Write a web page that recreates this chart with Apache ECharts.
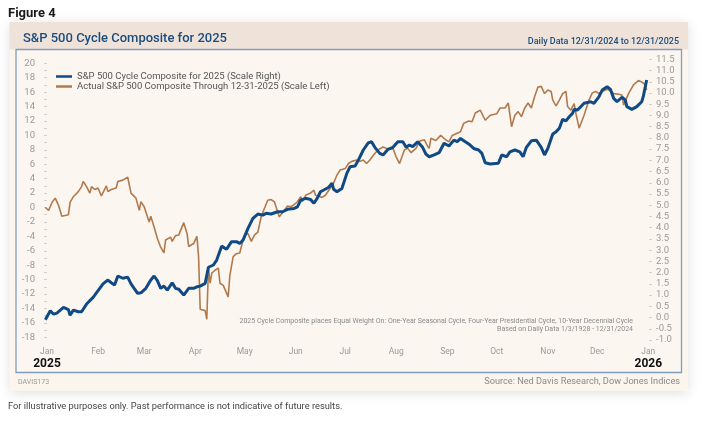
<!DOCTYPE html>
<html><head><meta charset="utf-8">
<script src="https://cdn.jsdelivr.net/npm/echarts@6/dist/echarts.min.js"></script>
<style>html,body{margin:0;padding:0;background:#fff}#c{width:712px;height:430px}</style>
</head><body><div id="c"></div>
<script>
// x values: days since 2025-01-01 (-1 = 12/31/2024, 364 = 12/31/2025)
const compositeName = 'S&P 500 Cycle Composite for 2025 (Scale Right)';
const actualName = 'Actual S&P 500 Composite Through 12-31-2025 (Scale Left)';

const compositeDays = [-1,2,4,6,10,13,14,16,19,21,24,28,31,34,37,39,41,43,46,49,51,55,57,60,63,65,67,69,71,73,76,78,80,83,86,89,91,93,96,98,101,103,106,109,112,115,117,119,122,125,128,131,133,136,140,143,146,150,152,154,157,160,162,164,166,168,171,173,174,176,179,182,184,187,189,192,195,197,199,202,204,207,210,213,216,218,220,222,225,228,230,232,235,238,241,244,247,249,251,253,256,259,262,264,266,269,274,276,279,281,284,287,289,291,294,297,300,302,304,307,309,311,313,315,317,319,320,322,324,326,330,332,335,337,340,342,344,346,349,351,352,355,358,361,362,364];
const compositeValues = [-0.1,0.3,0.15,0.2,0.45,0.35,0.1,0.33,0.26,0.26,0.6,0.9,1.2,1.5,1.67,1.55,1.45,1.85,1.75,1.8,1.5,1.08,1.1,1.3,1.67,1.85,1.64,1.3,1.4,1.22,1.55,1.3,1.26,1.0,1.3,1.3,1.37,1.4,1.52,2.24,2.34,2.56,3.18,3.04,3.38,3.38,3.3,3.45,3.97,4.42,4.61,4.56,4.64,4.61,4.71,4.71,4.82,4.86,4.93,5.23,5.31,5.26,5.09,5.31,5.6,5.68,5.8,5.98,5.71,5.6,5.75,6.42,6.72,6.75,7.01,7.46,7.78,7.83,7.58,7.31,7.24,7.49,7.58,7.83,7.83,7.58,7.68,7.61,7.83,7.58,7.28,7.16,7.24,7.34,7.76,7.64,7.9,7.83,7.98,7.87,7.73,7.53,7.46,7.31,6.89,6.84,6.87,7.24,7.16,7.38,7.46,7.38,7.16,7.58,7.87,7.9,7.58,7.24,7.53,8.17,8.27,8.43,8.83,8.76,8.94,9.09,9.27,9.24,9.39,9.54,9.61,9.54,9.83,10.13,10.28,10.16,9.76,9.61,9.81,9.69,9.39,9.27,9.39,9.61,9.86,10.58];

const actualDays = [-1,1,3,5,7,9,13,14,16,19,21,22,24,26,27,29,31,33,35,36,37,39,42,43,46,49,51,54,56,57,59,61,62,63,65,67,69,70,71,72,75,76,78,80,83,85,86,89,91,92,93,96,97,98,99,100,102,104,105,107,110,111,113,115,117,118,120,122,124,126,128,130,132,134,136,138,140,141,144,146,148,150,152,154,155,157,160,162,163,165,167,169,172,174,176,178,181,183,185,188,190,192,194,196,198,201,204,206,208,210,212,214,217,219,221,224,226,229,231,232,233,236,239,242,244,246,248,251,253,256,258,260,263,266,269,273,275,278,280,282,284,286,288,290,292,294,296,298,300,302,304,306,307,309,311,313,315,316,318,320,321,323,326,329,331,333,335,337,340,342,344,347,349,350,353,356,359,361,363,364];
const actualValues = [0,-0.4,0.7,1.3,0.3,-1.2,-1.0,0.7,1.5,2.2,2.9,3.6,2.9,2.0,2.9,2.5,2.7,1.6,2.5,3.0,2.2,2.5,2.7,3.6,3.8,4.2,2.0,1.3,-0.4,0.8,0.1,-1.3,-2.0,-1.2,-2.7,-4.3,-5.5,-5.3,-6.3,-4.5,-4.1,-4.7,-3.9,-3.8,-2.1,-3.6,-5.4,-5.0,-4.0,-6.8,-14.1,-14.3,-15.5,-8.4,-10.5,-9.1,-8.7,-8.4,-10.5,-10.8,-12.4,-9.4,-6.8,-6.4,-6.3,-5.4,-3.8,-3.6,-4.7,-3.8,-3.4,-1.3,-0.1,1.0,1.1,0.8,-0.6,-1.3,-0.4,0.2,0.1,0.4,0.8,1.5,0.8,1.7,2.0,2.4,1.7,1.6,1.4,1.7,2.7,3.4,4.5,5.2,5.4,6.1,6.4,6.6,6.4,6.6,6.1,6.6,7.2,8.0,8.4,8.2,8.1,8.2,7.0,6.1,8.0,8.2,7.6,8.2,9.2,9.4,8.5,8.2,9.6,9.3,10.0,9.4,9.1,10.0,10.2,10.5,11.7,12.0,11.9,13.1,13.5,12.1,12.8,13.0,13.8,13.8,14.5,11.2,12.8,13.3,12.6,13.8,14.5,13.8,15.4,16.7,16.8,15.8,16.3,16.1,14.9,14.1,14.9,15.8,16.1,14.0,13.5,14.4,13.1,11.0,12.8,14.9,15.9,16.1,15.8,16.1,16.4,16.2,15.8,15.7,15.6,14.2,15.8,17.0,17.6,17.4,17.1,16.3];

const monthTickDays = [0,31,59,90,120,151,181,212,243,273,304,334,365];
const monthTickLabels = ['Jan','Feb','Mar','Apr','May','Jun','Jul','Aug','Sep','Oct','Nov','Dec','Jan'];
const yearTickLabels = {0:'2025', 365:'2026'};
const leftTickLabels = [-18,-16,-14,-12,-10,-8,-6,-4,-2,0,2,4,6,8,10,12,14,16,18,20];
const leftMinorTicks = [-18,-17,-16,-15,-14,-13,-12,-11,-10,-9,-8,-7,-6,-5,-4,-3,-2,-1,0,1,2,3,4,5,6,7,8,9,10,11,12,13,14,15,16,17,18,19,20];
const rightTickLabels = [-1.0,-0.5,0.0,0.5,1.0,1.5,2.0,2.5,3.0,3.5,4.0,4.5,5.0,5.5,6.0,6.5,7.0,7.5,8.0,8.5,9.0,9.5,10.0,10.5,11.0,11.5];

const FONT = 'Roboto';
const chart = echarts.init(document.getElementById('c'), null, {renderer:'canvas'});

function txt(text, x, y, size, color, align, weight) {
  return {type:'text', z:50, silent:true, style:{text:text, x:x, y:y, fontSize:size, fontFamily:FONT,
    fontWeight:weight||'normal', fill:color, textAlign:align||'left', align:align||'left',
    textVerticalAlign:'middle', verticalAlign:'middle'}};
}

chart.setOption({
  backgroundColor:'#ffffff',
  textStyle:{fontFamily:FONT},
  animation:false,
  graphic:[
    {type:'rect', z:-10, silent:true, shape:{x:9.5,y:22,width:678.5,height:369},
      style:{fill:'#fbf5ee', shadowBlur:12, shadowColor:'rgba(0,0,0,0.13)', shadowOffsetY:2}},
    {type:'rect', z:-9, silent:true, shape:{x:9.5,y:22,width:678.5,height:27.5}, style:{fill:'#efe3d9'}},
    {type:'rect', z:-8, silent:true, shape:{x:16,y:49.5,width:665.5,height:323},
      style:{fill:'#fcf6f0', stroke:'#809dbb', lineWidth:1.3}},
    txt('Figure 4', 8, 14, 13, '#1a1a1a', 'left', 'bold'),
    txt('S&P 500 Cycle Composite for 2025', 23, 39, 13, '#1b4c7e', 'left', '500'),
    txt('Daily Data 12/31/2024 to 12/31/2025', 679, 42, 9, '#1b4c7e', 'right', '500'),
    txt('DAVIS173', 18, 382, 7, '#9a9a9a', 'left'),
    txt('Source: Ned Davis Research, Dow Jones Indices', 680, 382, 9.2, '#8a8a8a', 'right'),
    txt('For illustrative purposes only. Past performance is not indicative of future results.', 8, 407, 9.3, '#444444', 'left'),
    txt('2025 Cycle Composite places Equal Weight On: One-Year Seasonal Cycle, Four-Year Presidential Cycle, 10-Year Decennial Cycle', 633, 321, 7, '#8a8a8a', 'right'),
    txt('Based on Daily Data 1/3/1928 - 12/31/2024', 633, 329.5, 7, '#8a8a8a', 'right')
  ],
  grid:{left:43, right:63, top:55, bottom:85, containLabel:false},
  legend:{
    show:true, orient:'vertical', left:56, top:71, itemWidth:16, itemHeight:2.5, itemGap:-1, icon:'rect',
    padding:0,
    data:[compositeName, actualName],
    textStyle:{fontSize:9.5, color:'#555555', lineHeight:11, fontFamily:FONT}
  },
  xAxis:{
    type:'value', min:-2.43, max:365.42,
    axisLine:{show:false}, axisTick:{show:false}, splitLine:{show:false},
    axisLabel:{
      customValues: monthTickDays, margin:1,
      formatter:function(v){
        const i = monthTickDays.indexOf(v);
        const m = monthTickLabels[i];
        return yearTickLabels[v] ? '{m|'+m+'}\n{y|'+yearTickLabels[v]+'}' : '{m|'+m+'}';
      },
      rich:{
        m:{fontSize:8.5, color:'#9a9a9a', lineHeight:11.6, fontFamily:FONT},
        y:{fontSize:12, fontWeight:'bold', color:'#111111', lineHeight:12, fontFamily:FONT}
      }
    }
  },
  yAxis:[
    {type:'value', position:'left', min:-19.068, max:21.151,
      axisLine:{show:false}, splitLine:{show:false},
      axisTick:{show:true, customValues:leftMinorTicks, length:3, lineStyle:{color:'#d3cec8', width:1}},
      axisLabel:{customValues:leftTickLabels, margin:8, fontSize:9.5, color:'#9a9a9a', fontFamily:FONT}
    },
    {type:'value', position:'right', min:-1.2227, max:11.6915,
      axisLine:{show:false}, splitLine:{show:false},
      axisTick:{show:true, customValues:rightTickLabels, length:3, lineStyle:{color:'#d3cec8', width:1}},
      axisLabel:{customValues:rightTickLabels, margin:7, fontSize:9.5, color:'#9a9a9a', fontFamily:FONT,
        formatter:function(v){return v.toFixed(1);}}
    }
  ],
  series:[
    {name:actualName, type:'line', yAxisIndex:0, symbol:'none', z:2,
      data: actualDays.map(function(d,i){return [d, actualValues[i]];}),
      lineStyle:{color:'#b07a4e', width:1.6}, itemStyle:{color:'#b07a4e'}},
    {name:compositeName, type:'line', yAxisIndex:1, symbol:'none', z:3,
      data: compositeDays.map(function(d,i){return [d, compositeValues[i]];}),
      lineStyle:{color:'#0f4a84', width:3}, itemStyle:{color:'#0f4a84'}}
  ]
});
</script></body></html>
